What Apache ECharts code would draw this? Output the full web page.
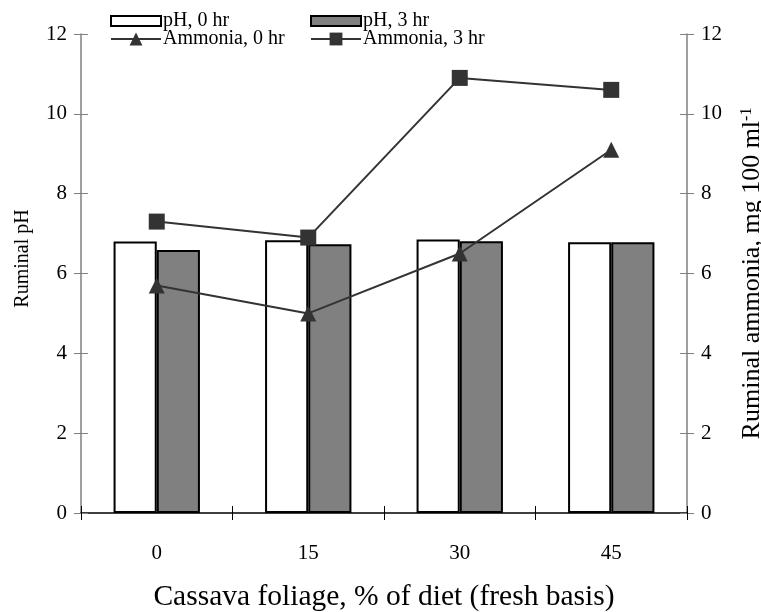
<!DOCTYPE html>
<html>
<head>
<meta charset="utf-8">
<script src="https://cdn.jsdelivr.net/npm/echarts@6/dist/echarts.min.js"></script>
<style>html,body{margin:0;padding:0;background:#fff}#c{width:761px;height:612px}</style>
</head>
<body>
<div id="c"></div>
<script>
const categories = ['0', '15', '30', '45'];
const ph0 = [6.80, 6.83, 6.85, 6.78];
const ph3 = [6.59, 6.73, 6.81, 6.78];
const nh0 = [5.7, 5.0, 6.5, 9.1];
const nh3 = [7.3, 6.9, 10.9, 10.6];
const yTicks = [0, 2, 4, 6, 8, 10, 12];

const FONT = 'Liberation Serif';
const chart = echarts.init(document.getElementById('c'));
const grid = {left: 81, right: 74, top: 34, bottom: 99, outerBoundsMode: 'none', containLabel: false};
const yBase = {
  type: 'value', min: yTicks[0], max: yTicks[yTicks.length - 1], interval: 2,
  splitLine: {show: false}
};
function legendAt(name, left, top, icon, h) {
  const l = {
    data: [name], left: left, top: top, padding: 0, orient: 'horizontal',
    itemWidth: 50, itemHeight: h, selectedMode: false,
    textStyle: {fontFamily: FONT, fontSize: 20, color: '#000', padding: [0, 0, 0, -3]}
  };
  if (icon) l.icon = icon;
  return l;
}
chart.setOption({
  animation: false,
  backgroundColor: '#fff',
  textStyle: {fontFamily: FONT},
  grid: grid,
  legend: [
    legendAt('pH, 0 hr', 110, 11, 'rect', 10),
    legendAt('pH, 3 hr', 310, 11, 'rect', 10),
    legendAt('Ammonia, 0 hr', 110, 29, null, 16),
    legendAt('Ammonia, 3 hr', 310, 29, null, 16)
  ],
  xAxis: [{
    type: 'category', data: categories, boundaryGap: true,
    axisLine: {lineStyle: {color: '#000', width: 1.5}},
    axisTick: {show: true, length: 7, lineStyle: {color: '#000'}},
    axisLabel: {fontFamily: FONT, fontSize: 21, color: '#000', margin: 30},
    name: 'Cassava foliage, % of diet (fresh basis)', nameLocation: 'middle', nameGap: 69,
    nameTextStyle: {fontFamily: FONT, fontSize: 29.5, color: '#000'}
  }, {
    type: 'category', data: categories, boundaryGap: true, position: 'bottom',
    axisLine: {show: false},
    axisTick: {show: true, inside: true, length: 7, lineStyle: {color: '#000'}},
    axisLabel: {show: false}
  }],
  yAxis: [Object.assign({}, yBase, {
    position: 'left',
    axisLine: {show: true, lineStyle: {color: '#808080', width: 1.5}},
    axisTick: {show: true, length: 7, lineStyle: {color: '#808080'}},
    axisLabel: {fontFamily: FONT, fontSize: 21, color: '#000', margin: 14},
    name: 'Ruminal pH', nameLocation: 'middle', nameGap: 48,
    nameTextStyle: {fontFamily: FONT, fontSize: 20, color: '#000', padding: [0, 0, 0, 30]}
  }), Object.assign({}, yBase, {
    position: 'right',
    axisLine: {show: true, lineStyle: {color: '#808080', width: 1.5}},
    axisTick: {show: true, length: 7, lineStyle: {color: '#808080'}},
    axisLabel: {fontFamily: FONT, fontSize: 21, color: '#000', margin: 14},
    name: '{t|Ruminal ammonia, mg 100 ml}{s|-1}', nameLocation: 'middle', nameGap: 52, nameRotate: 90,
    nameTextStyle: {
      fontFamily: FONT, fontSize: 26, color: '#000',
      rich: {t: {fontFamily: FONT, fontSize: 26, color: '#000'},
             s: {fontFamily: FONT, fontSize: 16, color: '#000', verticalAlign: 'top', padding: [0, 0, 10, 0]}}
    }
  }), Object.assign({}, yBase, {
    position: 'left', axisLine: {show: false}, axisLabel: {show: false},
    axisTick: {show: true, inside: true, length: 7, lineStyle: {color: '#808080'}}
  }), Object.assign({}, yBase, {
    position: 'right', axisLine: {show: false}, axisLabel: {show: false},
    axisTick: {show: true, inside: true, length: 7, lineStyle: {color: '#808080'}}
  })],
  series: [{
    name: 'pH, 0 hr', type: 'bar', data: ph0, xAxisIndex: 0, yAxisIndex: 0,
    barGap: '0%', barCategoryGap: '43%',
    itemStyle: {color: '#fff', borderColor: '#000', borderWidth: 2}, z: 2
  }, {
    name: 'pH, 3 hr', type: 'bar', data: ph3, xAxisIndex: 0, yAxisIndex: 0,
    barGap: '0%', barCategoryGap: '43%',
    itemStyle: {color: '#808080', borderColor: '#000', borderWidth: 2}, z: 2
  }, {
    name: 'Ammonia, 0 hr', type: 'line', data: nh0, xAxisIndex: 0, yAxisIndex: 1,
    symbol: 'triangle', symbolSize: 16,
    lineStyle: {color: '#333', width: 2}, itemStyle: {color: '#333'}, z: 5
  }, {
    name: 'Ammonia, 3 hr', type: 'line', data: nh3, xAxisIndex: 0, yAxisIndex: 1,
    symbol: 'rect', symbolSize: 16,
    lineStyle: {color: '#333', width: 2}, itemStyle: {color: '#333'}, z: 5
  }]
});
</script>
</body>
</html>
